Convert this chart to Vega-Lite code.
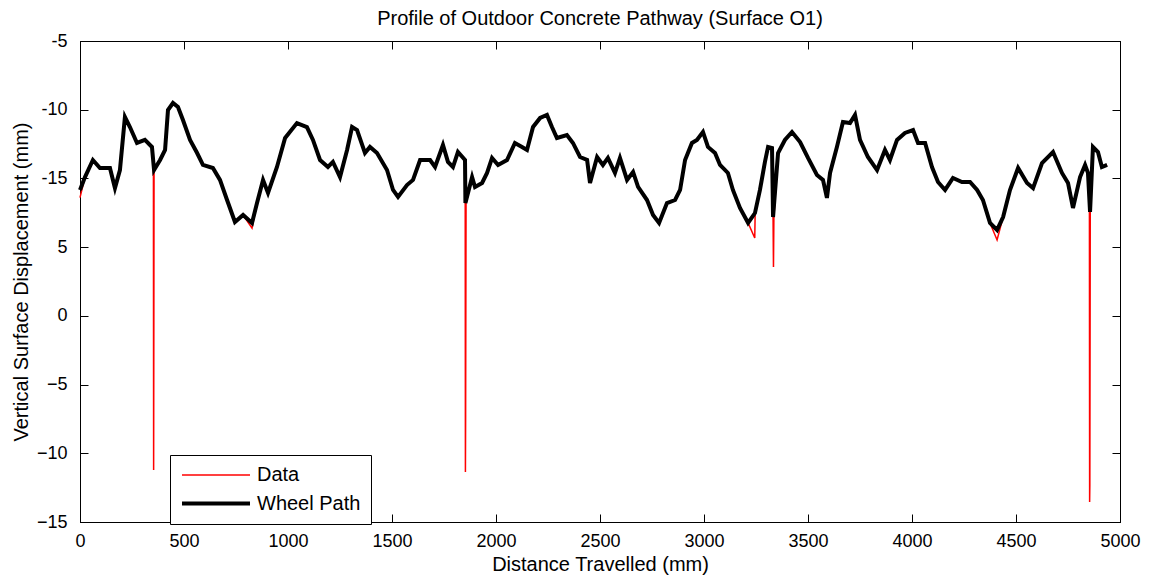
{
  "$schema": "https://vega.github.io/schema/vega-lite/v6.json",
  "autosize": "none",
  "width": 1040,
  "height": 481,
  "padding": {"left": 80, "top": 41, "right": 31, "bottom": 59},
  "background": "white",
  "view": {"stroke": "black", "strokeWidth": 1},
  "config": {
    "font": "Liberation Sans",
    "axis": {"grid": false, "domainColor": "black", "tickColor": "black", "labelColor": "black", "titleColor": "black", "labelFont": "Liberation Sans", "titleFont": "Liberation Sans", "labelFontSize": 18, "titleFontSize": 20, "titleFontWeight": "normal", "tickSize": -8, "domainWidth": 1, "tickWidth": 1, "labelFlush": false}
  },
  "title": {"text": "Profile of Outdoor Concrete Pathway (Surface O1)", "font": "Liberation Sans", "fontSize": 20, "fontWeight": "normal", "color": "black", "offset": 3},
  "data": {"values": [
    {"s":"Data","d":0,"v":8.6},{"s":"Data","d":24,"v":10.1},{"s":"Data","d":62,"v":11.34},{"s":"Data","d":96,"v":10.76},{"s":"Data","d":144,"v":10.76},{"s":"Data","d":168,"v":9.3},{"s":"Data","d":192,"v":10.61},{"s":"Data","d":216,"v":14.47},{"s":"Data","d":240,"v":13.74},{"s":"Data","d":274,"v":12.58},{"s":"Data","d":312,"v":12.8},{"s":"Data","d":346,"v":12.29},{"s":"Data","d":353,"v":10.61},{"s":"Data","d":354,"v":-11.22},{"s":"Data","d":355,"v":-0.88},{"s":"Data","d":356,"v":10.61},{"s":"Data","d":385,"v":11.34},{"s":"Data","d":409,"v":12.07},{"s":"Data","d":423,"v":14.98},{"s":"Data","d":447,"v":15.49},{"s":"Data","d":471,"v":15.2},{"s":"Data","d":495,"v":14.25},{"s":"Data","d":529,"v":12.8},{"s":"Data","d":563,"v":11.85},{"s":"Data","d":591,"v":10.98},{"s":"Data","d":639,"v":10.76},{"s":"Data","d":673,"v":9.89},{"s":"Data","d":707,"v":8.43},{"s":"Data","d":745,"v":6.83},{"s":"Data","d":784,"v":7.34},{"s":"Data","d":827,"v":6.39},{"s":"Data","d":851,"v":8.21},{"s":"Data","d":880,"v":9.89},{"s":"Data","d":904,"v":8.94},{"s":"Data","d":947,"v":10.83},{"s":"Data","d":986,"v":12.94},{"s":"Data","d":1043,"v":14.03},{"s":"Data","d":1091,"v":13.74},{"s":"Data","d":1120,"v":12.8},{"s":"Data","d":1154,"v":11.34},{"s":"Data","d":1192,"v":10.83},{"s":"Data","d":1216,"v":11.2},{"s":"Data","d":1250,"v":10.1},{"s":"Data","d":1284,"v":12.07},{"s":"Data","d":1308,"v":13.74},{"s":"Data","d":1332,"v":13.52},{"s":"Data","d":1370,"v":11.85},{"s":"Data","d":1394,"v":12.29},{"s":"Data","d":1428,"v":11.85},{"s":"Data","d":1476,"v":10.61},{"s":"Data","d":1505,"v":9.16},{"s":"Data","d":1529,"v":8.65},{"s":"Data","d":1572,"v":9.52},{"s":"Data","d":1601,"v":9.89},{"s":"Data","d":1635,"v":11.34},{"s":"Data","d":1683,"v":11.34},{"s":"Data","d":1707,"v":10.83},{"s":"Data","d":1745,"v":12.43},{"s":"Data","d":1769,"v":11.2},{"s":"Data","d":1793,"v":10.83},{"s":"Data","d":1817,"v":11.92},{"s":"Data","d":1851,"v":11.34},{"s":"Data","d":1852,"v":8.21},{"s":"Data","d":1853,"v":-11.36},{"s":"Data","d":1854,"v":-7.21},{"s":"Data","d":1856,"v":8.21},{"s":"Data","d":1885,"v":10.1},{"s":"Data","d":1899,"v":9.38},{"s":"Data","d":1933,"v":9.67},{"s":"Data","d":1957,"v":10.4},{"s":"Data","d":1981,"v":11.49},{"s":"Data","d":2010,"v":10.98},{"s":"Data","d":2053,"v":11.34},{"s":"Data","d":2091,"v":12.58},{"s":"Data","d":2125,"v":12.29},{"s":"Data","d":2149,"v":12.07},{"s":"Data","d":2178,"v":13.74},{"s":"Data","d":2212,"v":14.4},{"s":"Data","d":2245,"v":14.62},{"s":"Data","d":2269,"v":13.74},{"s":"Data","d":2293,"v":12.94},{"s":"Data","d":2341,"v":13.16},{"s":"Data","d":2370,"v":12.58},{"s":"Data","d":2404,"v":11.56},{"s":"Data","d":2438,"v":11.34},{"s":"Data","d":2452,"v":9.67},{"s":"Data","d":2486,"v":11.56},{"s":"Data","d":2514,"v":10.98},{"s":"Data","d":2538,"v":11.49},{"s":"Data","d":2572,"v":10.4},{"s":"Data","d":2596,"v":11.49},{"s":"Data","d":2630,"v":9.89},{"s":"Data","d":2659,"v":10.47},{"s":"Data","d":2683,"v":9.38},{"s":"Data","d":2726,"v":8.43},{"s":"Data","d":2755,"v":7.34},{"s":"Data","d":2784,"v":6.76},{"s":"Data","d":2822,"v":8.21},{"s":"Data","d":2861,"v":8.43},{"s":"Data","d":2885,"v":9.16},{"s":"Data","d":2909,"v":11.34},{"s":"Data","d":2942,"v":12.58},{"s":"Data","d":2966,"v":12.8},{"s":"Data","d":2995,"v":13.38},{"s":"Data","d":3019,"v":12.29},{"s":"Data","d":3053,"v":11.85},{"s":"Data","d":3077,"v":10.98},{"s":"Data","d":3115,"v":10.4},{"s":"Data","d":3139,"v":9.16},{"s":"Data","d":3173,"v":7.85},{"s":"Data","d":3212,"v":6.76},{"s":"Data","d":3244,"v":5.67},{"s":"Data","d":3246,"v":7.48},{"s":"Data","d":3269,"v":9.16},{"s":"Data","d":3293,"v":11.2},{"s":"Data","d":3308,"v":12.29},{"s":"Data","d":3327,"v":12.21},{"s":"Data","d":3332,"v":7.19},{"s":"Data","d":3334,"v":3.56},{"s":"Data","d":3336,"v":7.19},{"s":"Data","d":3356,"v":11.85},{"s":"Data","d":3389,"v":12.8},{"s":"Data","d":3423,"v":13.38},{"s":"Data","d":3462,"v":12.65},{"s":"Data","d":3500,"v":11.49},{"s":"Data","d":3543,"v":10.25},{"s":"Data","d":3572,"v":9.89},{"s":"Data","d":3591,"v":8.58},{"s":"Data","d":3606,"v":10.4},{"s":"Data","d":3639,"v":12.29},{"s":"Data","d":3668,"v":14.11},{"s":"Data","d":3702,"v":14.03},{"s":"Data","d":3726,"v":14.62},{"s":"Data","d":3750,"v":12.8},{"s":"Data","d":3788,"v":11.56},{"s":"Data","d":3832,"v":10.61},{"s":"Data","d":3870,"v":12.07},{"s":"Data","d":3894,"v":11.34},{"s":"Data","d":3928,"v":12.8},{"s":"Data","d":3966,"v":13.31},{"s":"Data","d":4005,"v":13.52},{"s":"Data","d":4029,"v":12.58},{"s":"Data","d":4063,"v":12.58},{"s":"Data","d":4096,"v":10.83},{"s":"Data","d":4125,"v":9.74},{"s":"Data","d":4159,"v":9.16},{"s":"Data","d":4197,"v":10.03},{"s":"Data","d":4240,"v":9.74},{"s":"Data","d":4279,"v":9.74},{"s":"Data","d":4313,"v":9.16},{"s":"Data","d":4341,"v":8.43},{"s":"Data","d":4375,"v":6.76},{"s":"Data","d":4409,"v":5.52},{"s":"Data","d":4438,"v":7.19},{"s":"Data","d":4471,"v":9.16},{"s":"Data","d":4510,"v":10.76},{"s":"Data","d":4553,"v":9.67},{"s":"Data","d":4582,"v":9.3},{"s":"Data","d":4625,"v":11.12},{"s":"Data","d":4678,"v":11.92},{"s":"Data","d":4721,"v":10.4},{"s":"Data","d":4750,"v":9.67},{"s":"Data","d":4774,"v":7.85},{"s":"Data","d":4808,"v":10.1},{"s":"Data","d":4832,"v":10.98},{"s":"Data","d":4846,"v":10.4},{"s":"Data","d":4853,"v":7.56},{"s":"Data","d":4854,"v":-13.54},{"s":"Data","d":4855,"v":-12.31},{"s":"Data","d":4857,"v":7.56},{"s":"Data","d":4870,"v":12.29},{"s":"Data","d":4894,"v":11.92},{"s":"Data","d":4913,"v":10.83},{"s":"Data","d":4938,"v":10.98},
    {"s":"Wheel Path","d":0,"v":9.16},{"s":"Wheel Path","d":24,"v":10.1},{"s":"Wheel Path","d":62,"v":11.34},{"s":"Wheel Path","d":96,"v":10.76},{"s":"Wheel Path","d":144,"v":10.76},{"s":"Wheel Path","d":168,"v":9.3},{"s":"Wheel Path","d":192,"v":10.61},{"s":"Wheel Path","d":216,"v":14.47},{"s":"Wheel Path","d":240,"v":13.74},{"s":"Wheel Path","d":274,"v":12.58},{"s":"Wheel Path","d":312,"v":12.8},{"s":"Wheel Path","d":346,"v":12.29},{"s":"Wheel Path","d":356,"v":10.61},{"s":"Wheel Path","d":385,"v":11.34},{"s":"Wheel Path","d":409,"v":12.07},{"s":"Wheel Path","d":423,"v":14.98},{"s":"Wheel Path","d":447,"v":15.49},{"s":"Wheel Path","d":471,"v":15.2},{"s":"Wheel Path","d":495,"v":14.25},{"s":"Wheel Path","d":529,"v":12.8},{"s":"Wheel Path","d":563,"v":11.85},{"s":"Wheel Path","d":591,"v":10.98},{"s":"Wheel Path","d":639,"v":10.76},{"s":"Wheel Path","d":673,"v":9.89},{"s":"Wheel Path","d":707,"v":8.43},{"s":"Wheel Path","d":745,"v":6.83},{"s":"Wheel Path","d":784,"v":7.34},{"s":"Wheel Path","d":827,"v":6.76},{"s":"Wheel Path","d":851,"v":8.21},{"s":"Wheel Path","d":880,"v":9.89},{"s":"Wheel Path","d":904,"v":8.94},{"s":"Wheel Path","d":947,"v":10.83},{"s":"Wheel Path","d":986,"v":12.94},{"s":"Wheel Path","d":1043,"v":14.03},{"s":"Wheel Path","d":1091,"v":13.74},{"s":"Wheel Path","d":1120,"v":12.8},{"s":"Wheel Path","d":1154,"v":11.34},{"s":"Wheel Path","d":1192,"v":10.83},{"s":"Wheel Path","d":1216,"v":11.2},{"s":"Wheel Path","d":1250,"v":10.1},{"s":"Wheel Path","d":1284,"v":12.07},{"s":"Wheel Path","d":1308,"v":13.74},{"s":"Wheel Path","d":1332,"v":13.52},{"s":"Wheel Path","d":1370,"v":11.85},{"s":"Wheel Path","d":1394,"v":12.29},{"s":"Wheel Path","d":1428,"v":11.85},{"s":"Wheel Path","d":1476,"v":10.61},{"s":"Wheel Path","d":1505,"v":9.16},{"s":"Wheel Path","d":1529,"v":8.65},{"s":"Wheel Path","d":1572,"v":9.52},{"s":"Wheel Path","d":1601,"v":9.89},{"s":"Wheel Path","d":1635,"v":11.34},{"s":"Wheel Path","d":1683,"v":11.34},{"s":"Wheel Path","d":1707,"v":10.83},{"s":"Wheel Path","d":1745,"v":12.43},{"s":"Wheel Path","d":1769,"v":11.2},{"s":"Wheel Path","d":1793,"v":10.83},{"s":"Wheel Path","d":1817,"v":11.92},{"s":"Wheel Path","d":1851,"v":11.34},{"s":"Wheel Path","d":1853,"v":8.21},{"s":"Wheel Path","d":1885,"v":10.1},{"s":"Wheel Path","d":1899,"v":9.38},{"s":"Wheel Path","d":1933,"v":9.67},{"s":"Wheel Path","d":1957,"v":10.4},{"s":"Wheel Path","d":1981,"v":11.49},{"s":"Wheel Path","d":2010,"v":10.98},{"s":"Wheel Path","d":2053,"v":11.34},{"s":"Wheel Path","d":2091,"v":12.58},{"s":"Wheel Path","d":2125,"v":12.29},{"s":"Wheel Path","d":2149,"v":12.07},{"s":"Wheel Path","d":2178,"v":13.74},{"s":"Wheel Path","d":2212,"v":14.4},{"s":"Wheel Path","d":2245,"v":14.62},{"s":"Wheel Path","d":2269,"v":13.74},{"s":"Wheel Path","d":2293,"v":12.94},{"s":"Wheel Path","d":2341,"v":13.16},{"s":"Wheel Path","d":2370,"v":12.58},{"s":"Wheel Path","d":2404,"v":11.56},{"s":"Wheel Path","d":2438,"v":11.34},{"s":"Wheel Path","d":2452,"v":9.67},{"s":"Wheel Path","d":2486,"v":11.56},{"s":"Wheel Path","d":2514,"v":10.98},{"s":"Wheel Path","d":2538,"v":11.49},{"s":"Wheel Path","d":2572,"v":10.4},{"s":"Wheel Path","d":2596,"v":11.49},{"s":"Wheel Path","d":2630,"v":9.89},{"s":"Wheel Path","d":2659,"v":10.47},{"s":"Wheel Path","d":2683,"v":9.38},{"s":"Wheel Path","d":2726,"v":8.43},{"s":"Wheel Path","d":2755,"v":7.34},{"s":"Wheel Path","d":2784,"v":6.76},{"s":"Wheel Path","d":2822,"v":8.21},{"s":"Wheel Path","d":2861,"v":8.43},{"s":"Wheel Path","d":2885,"v":9.16},{"s":"Wheel Path","d":2909,"v":11.34},{"s":"Wheel Path","d":2942,"v":12.58},{"s":"Wheel Path","d":2966,"v":12.8},{"s":"Wheel Path","d":2995,"v":13.38},{"s":"Wheel Path","d":3019,"v":12.29},{"s":"Wheel Path","d":3053,"v":11.85},{"s":"Wheel Path","d":3077,"v":10.98},{"s":"Wheel Path","d":3115,"v":10.4},{"s":"Wheel Path","d":3139,"v":9.16},{"s":"Wheel Path","d":3173,"v":7.85},{"s":"Wheel Path","d":3212,"v":6.76},{"s":"Wheel Path","d":3245,"v":7.48},{"s":"Wheel Path","d":3269,"v":9.16},{"s":"Wheel Path","d":3293,"v":11.2},{"s":"Wheel Path","d":3308,"v":12.29},{"s":"Wheel Path","d":3327,"v":12.21},{"s":"Wheel Path","d":3332,"v":7.19},{"s":"Wheel Path","d":3356,"v":11.85},{"s":"Wheel Path","d":3389,"v":12.8},{"s":"Wheel Path","d":3423,"v":13.38},{"s":"Wheel Path","d":3462,"v":12.65},{"s":"Wheel Path","d":3500,"v":11.49},{"s":"Wheel Path","d":3543,"v":10.25},{"s":"Wheel Path","d":3572,"v":9.89},{"s":"Wheel Path","d":3591,"v":8.58},{"s":"Wheel Path","d":3606,"v":10.4},{"s":"Wheel Path","d":3639,"v":12.29},{"s":"Wheel Path","d":3668,"v":14.11},{"s":"Wheel Path","d":3702,"v":14.03},{"s":"Wheel Path","d":3726,"v":14.62},{"s":"Wheel Path","d":3750,"v":12.8},{"s":"Wheel Path","d":3788,"v":11.56},{"s":"Wheel Path","d":3832,"v":10.61},{"s":"Wheel Path","d":3870,"v":12.07},{"s":"Wheel Path","d":3894,"v":11.34},{"s":"Wheel Path","d":3928,"v":12.8},{"s":"Wheel Path","d":3966,"v":13.31},{"s":"Wheel Path","d":4005,"v":13.52},{"s":"Wheel Path","d":4029,"v":12.58},{"s":"Wheel Path","d":4063,"v":12.58},{"s":"Wheel Path","d":4096,"v":10.83},{"s":"Wheel Path","d":4125,"v":9.74},{"s":"Wheel Path","d":4159,"v":9.16},{"s":"Wheel Path","d":4197,"v":10.03},{"s":"Wheel Path","d":4240,"v":9.74},{"s":"Wheel Path","d":4279,"v":9.74},{"s":"Wheel Path","d":4313,"v":9.16},{"s":"Wheel Path","d":4341,"v":8.43},{"s":"Wheel Path","d":4375,"v":6.76},{"s":"Wheel Path","d":4409,"v":6.25},{"s":"Wheel Path","d":4438,"v":7.19},{"s":"Wheel Path","d":4471,"v":9.16},{"s":"Wheel Path","d":4510,"v":10.76},{"s":"Wheel Path","d":4553,"v":9.67},{"s":"Wheel Path","d":4582,"v":9.3},{"s":"Wheel Path","d":4625,"v":11.12},{"s":"Wheel Path","d":4678,"v":11.92},{"s":"Wheel Path","d":4721,"v":10.4},{"s":"Wheel Path","d":4750,"v":9.67},{"s":"Wheel Path","d":4774,"v":7.85},{"s":"Wheel Path","d":4808,"v":10.1},{"s":"Wheel Path","d":4832,"v":10.98},{"s":"Wheel Path","d":4846,"v":10.4},{"s":"Wheel Path","d":4856,"v":7.56},{"s":"Wheel Path","d":4870,"v":12.29},{"s":"Wheel Path","d":4894,"v":11.92},{"s":"Wheel Path","d":4913,"v":10.83},{"s":"Wheel Path","d":4938,"v":10.98}
  ]},
  "layer": [
    {
      "mark": {"type": "line", "strokeJoin": "miter", "strokeCap": "butt"},
      "encoding": {
        "x": {"field": "d", "type": "quantitative", "scale": {"domain": [0, 5000], "nice": false, "zero": false},
              "axis": {"orient": "bottom", "title": "Distance Travelled (mm)", "values": [0,500,1000,1500,2000,2500,3000,3500,4000,4500,5000], "format": "d", "labelPadding": 18, "titlePadding": 4, "labelOverlap": false}},
        "y": {"field": "v", "type": "quantitative", "scale": {"domain": [-15, 20], "nice": false, "zero": false},
              "axis": {"orient": "left", "title": "Vertical Surface Displacement (mm)", "values": [-15,-10,-5,0,5,10,15,20], "labelExpr": "datum.value == 20 ? '-5' : datum.value == 15 ? '-10' : datum.value == 10 ? '-15' : datum.label", "labelPadding": 21, "titlePadding": 5, "labelOverlap": false}},
        "color": {"field": "s", "type": "nominal", "scale": {"domain": ["Data", "Wheel Path"], "range": ["#ff0000", "#000000"]},
                  "legend": {"title": null, "orient": "none", "legendX": 90, "legendY": 414, "direction": "vertical", "strokeColor": "black", "fillColor": "white", "padding": 10, "labelFontSize": 20, "labelFont": "Liberation Sans", "labelColor": "black", "symbolType": "M-1,0H7", "symbolSize": 289, "labelOffset": 56, "rowPadding": 8, "cornerRadius": 0}},
        "strokeWidth": {"field": "s", "type": "nominal", "scale": {"domain": ["Data", "Wheel Path"], "range": [1.5, 4]},
                  "legend": {"title": null, "orient": "none", "legendX": 90, "legendY": 414, "direction": "vertical", "strokeColor": "black", "fillColor": "white", "padding": 10, "labelFontSize": 20, "labelFont": "Liberation Sans", "labelColor": "black", "symbolType": "M-1,0H7", "symbolSize": 289, "labelOffset": 56, "rowPadding": 8, "cornerRadius": 0}}
      }
    },
    {
      "mark": {"type": "line", "strokeOpacity": 0},
      "encoding": {
        "x": {"field": "d", "type": "quantitative", "axis": {"orient": "top", "title": null, "labels": false, "values": [0,500,1000,1500,2000,2500,3000,3500,4000,4500,5000]}},
        "y": {"field": "v", "type": "quantitative", "axis": {"orient": "right", "title": null, "labels": false, "values": [-15,-10,-5,0,5,10,15,20]}},
        "detail": {"field": "s", "type": "nominal"}
      }
    }
  ],
  "resolve": {"axis": {"x": "independent", "y": "independent"}}
}
